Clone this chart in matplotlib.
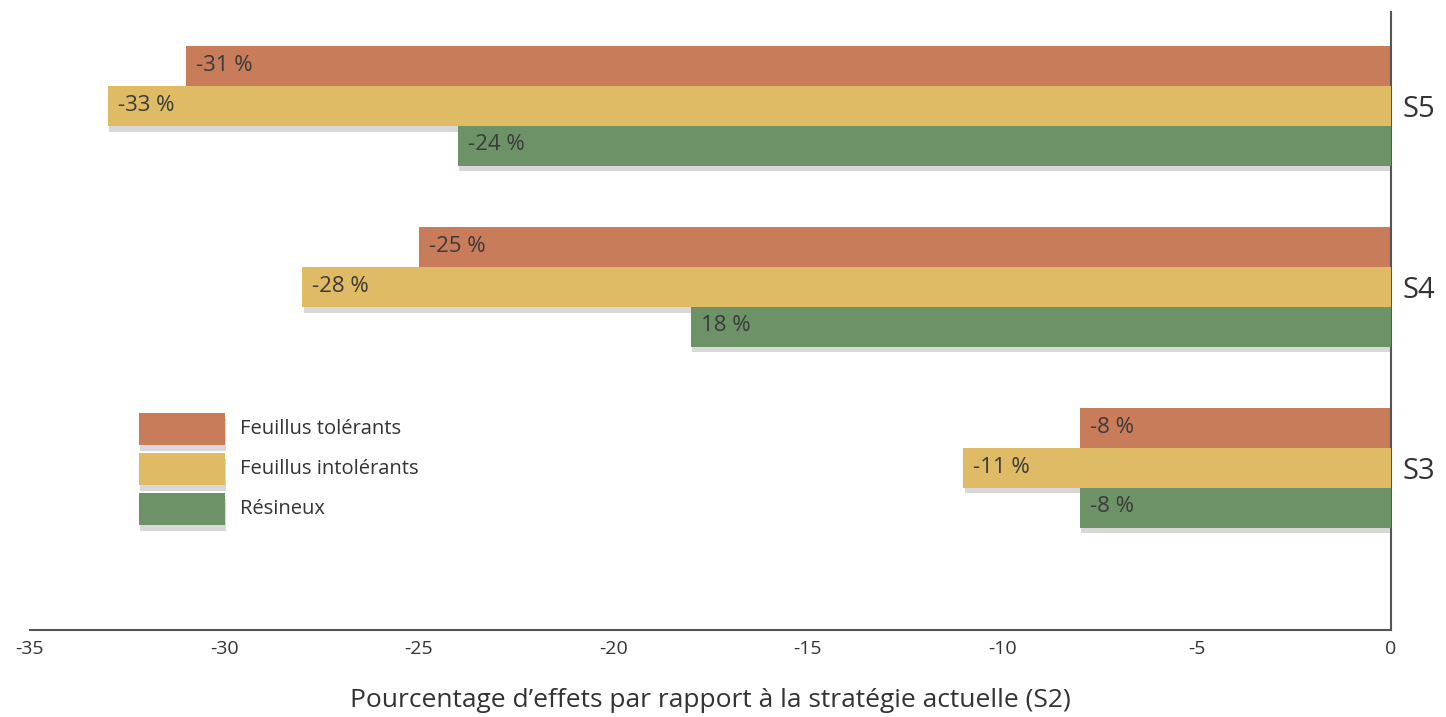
import matplotlib.pyplot as plt
import matplotlib.patheffects as pe
from matplotlib.patches import Rectangle
import numpy as np

plt.rcParams['font.family'] = ['Open Sans', 'DejaVu Sans']

# scenarios from top to bottom, effects in % relative to S2
scenarios = ["S5", "S4", "S3"]
groups = ["Feuillus tolérants", "Feuillus intolérants", "Résineux"]
tolerants = [-31, -25, -8]
intolerants = [-33, -28, -11]
resineux = [-24, -18, -8]
bar_labels = [
    ["-31 %", "-25 %", "-8 %"],
    ["-33 %", "-28 %", "-11 %"],
    ["-24 %", "18 %", "-8 %"],
]
xticks = [-35, -30, -25, -20, -15, -10, -5, 0]

colors = ["#C97C5A", "#E0BB66", "#6E9268"]
series = [tolerants, intolerants, resineux]
text_col = "#333333"

fig = plt.figure(figsize=(14.46, 7.17), dpi=100)
W, H = 1446, 717
ax = fig.add_axes([30 / W, (H - 630) / H, (1391 - 30) / W, (630 - 12) / H])

centers = np.arange(len(scenarios))[::-1].astype(float)  # S5 on top
bar_h = 0.22
shadow = [pe.SimplePatchShadow(offset=(1, -4), shadow_rgbFace="#666666", alpha=0.25),
          pe.Normal()]

for i, (vals, col) in enumerate(zip(series, colors)):
    ys = centers + (1 - i) * bar_h
    bars = ax.barh(ys, vals, height=bar_h, color=col, zorder=2 + i)
    for b in bars:
        b.set_path_effects(shadow)
    for y, v, txt in zip(ys, vals, bar_labels[i]):
        ax.annotate(txt, xy=(v, y), xytext=(10, 1), textcoords="offset pixels",
                    ha="left", va="center", fontsize=16, color="#3a3a3a", zorder=10)

ax.set_xlim(-35, 0)
ax.set_ylim(-0.895, 2.52)
ax.set_xticks(xticks)
ax.set_xticklabels([str(t) for t in xticks], fontsize=14, color=text_col)
ax.tick_params(axis="x", length=0, pad=7)

ax.yaxis.tick_right()
ax.set_yticks(centers)
ax.set_yticklabels(scenarios, fontsize=21, color=text_col)
ax.tick_params(axis="y", length=0, pad=8)

for s in ["left", "top"]:
    ax.spines[s].set_visible(False)
for s in ["bottom", "right"]:
    ax.spines[s].set_color("#555555")
    ax.spines[s].set_linewidth(1.5)

ax.set_xlabel("Pourcentage d’effets par rapport à la stratégie actuelle (S2)",
              fontsize=19, color=text_col, labelpad=22)

# legend: colour swatches with labels, laid out in pixels from the top-left corner
px = fig.dpi_scale_trans
for i, (name, col) in enumerate(zip(groups, colors)):
    top = 413 + 40 * i
    sw = Rectangle((139 / 100, (H - top - 32) / 100), 86 / 100, 32 / 100,
                   transform=px, facecolor=col, edgecolor="none")
    sw.set_path_effects(shadow)
    fig.add_artist(sw)
    fig.text(240 / W, (H - top - 16) / H, name, fontsize=14.5, color=text_col,
             ha="left", va="center")

fig.savefig("out.png", dpi=100)
